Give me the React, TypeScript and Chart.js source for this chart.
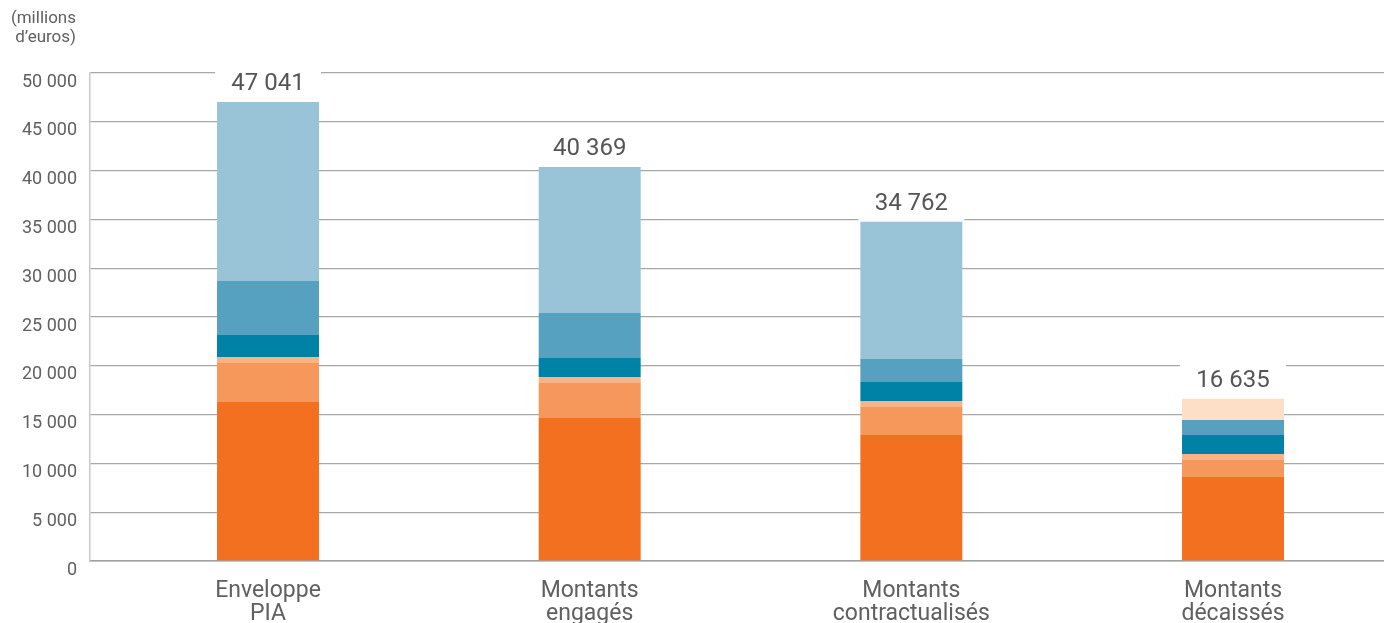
import React, { useEffect, useRef } from "react";
import { Chart, registerables } from "chart.js";

Chart.register(...registerables);

const categories: string[][] = [
  ["Enveloppe", "PIA"],
  ["Montants", "engagés"],
  ["Montants", "contractualisés"],
  ["Montants", "décaissés"],
];
const totals = [47041, 40369, 34762, 16635];

const seriesOrange = [16290, 14650, 12910, 8610];
const seriesMidOrange = [4000, 3590, 2870, 1740];
const seriesPaleOrange = [610, 610, 610, 610];
const seriesTeal = [2260, 1950, 1950, 1950];
const seriesMidBlue = [5530, 4610, 2360, 1540];
const seriesLightBlue = [18351, 14959, 14062, 0];
const seriesPeach = [0, 0, 0, 2185];

const yTicks = [0, 5000, 10000, 15000, 20000, 25000, 30000, 35000, 40000, 45000, 50000];

const seriesList = [
  { data: seriesOrange, color: "#F37021" },
  { data: seriesMidOrange, color: "#F6985C" },
  { data: seriesPaleOrange, color: "#F9B486" },
  { data: seriesTeal, color: "#0081A6" },
  { data: seriesMidBlue, color: "#56A1BF" },
  { data: seriesLightBlue, color: "#99C4D7" },
  { data: seriesPeach, color: "#FDDEC6" },
];

const fmt = (v: number) => String(v).replace(/\B(?=(\d{3})+(?!\d))/g, " ");
const FONT = "Roboto";
const TEXT = "#606060";

export default function App() {
  const ref = useRef<HTMLCanvasElement | null>(null);

  useEffect(() => {
    if (!ref.current) return;

    const totalsPlugin = {
      id: "totalsPlugin",
      afterDatasetsDraw(chart: any) {
        const ctx = chart.ctx;
        const xs = chart.scales.x;
        const ys = chart.scales.y;
        ctx.save();
        totals.forEach((t, i) => {
          const cx = xs.getPixelForValue(i);
          const top = ys.getPixelForValue(t);
          ctx.fillStyle = "#ffffff";
          ctx.fillRect(cx - 53, top - 42, 106, 41);
          ctx.fillStyle = "#555555";
          ctx.font = `24px ${FONT}`;
          ctx.textAlign = "center";
          ctx.textBaseline = "middle";
          ctx.fillText(fmt(t), cx, top - 18);
        });
        ctx.fillStyle = TEXT;
        ctx.font = `17px ${FONT}`;
        ctx.textAlign = "right";
        ctx.textBaseline = "middle";
        ctx.fillText("(millions", 76, 19);
        ctx.fillText("d’euros)", 76, 38);
        ctx.restore();
      },
    };

    const chart = new Chart(ref.current, {
      type: "bar",
      data: {
        datasets: seriesList.map((s) => ({
          data: s.data.map((v, i) => ({ x: i, y: v })),
          backgroundColor: s.color,
          borderWidth: 0,
          categoryPercentage: 1,
          barPercentage: 0.317,
        })),
      },
      options: {
        animation: false,
        responsive: true,
        maintainAspectRatio: false,
        layout: { padding: { top: 73, left: 0, right: 0, bottom: 0 } },
        plugins: {
          legend: { display: false },
          tooltip: { enabled: false },
        },
        scales: {
          x: {
            type: "linear",
            stacked: true,
            offset: false,
            min: -0.5534,
            max: 3.4694,
            afterBuildTicks: (scale: any) => {
              scale.ticks = categories.map((_, i) => ({ value: i }));
            },
            afterFit: (scale: any) => {
              scale.height = 62;
            },
            grid: { display: false, drawTicks: false, offset: false },
            border: { display: true, color: "#a0a0a0", width: 1.5 },
            ticks: {
              autoSkip: false,
              maxRotation: 0,
              padding: 19,
              color: TEXT,
              font: { family: FONT, size: 23, lineHeight: 1.0 },
              callback: (v: any) => categories[Math.round(Number(v))] || "",
            },
          },
          y: {
            stacked: true,
            min: 0,
            max: 50000,
            afterBuildTicks: (scale: any) => {
              scale.ticks = yTicks.map((v) => ({ value: v }));
            },
            afterFit: (scale: any) => {
              scale.width = 90;
            },
            grid: { color: "#a8a8a8", lineWidth: 1.3, drawTicks: false },
            border: { display: true, color: "#c8c8c8", width: 1.5 },
            ticks: {
              padding: 13,
              labelOffset: 9,
              color: TEXT,
              font: { family: FONT, size: 18 },
              callback: (v: any) => fmt(Number(v)),
            },
          },
        },
      },
      plugins: [totalsPlugin],
    } as any);

    return () => chart.destroy();
  }, []);

  return (
    <div style={{ position: "absolute", left: 0, top: 0, width: 1384, height: 623 }}>
      <canvas ref={ref} />
    </div>
  );
}
